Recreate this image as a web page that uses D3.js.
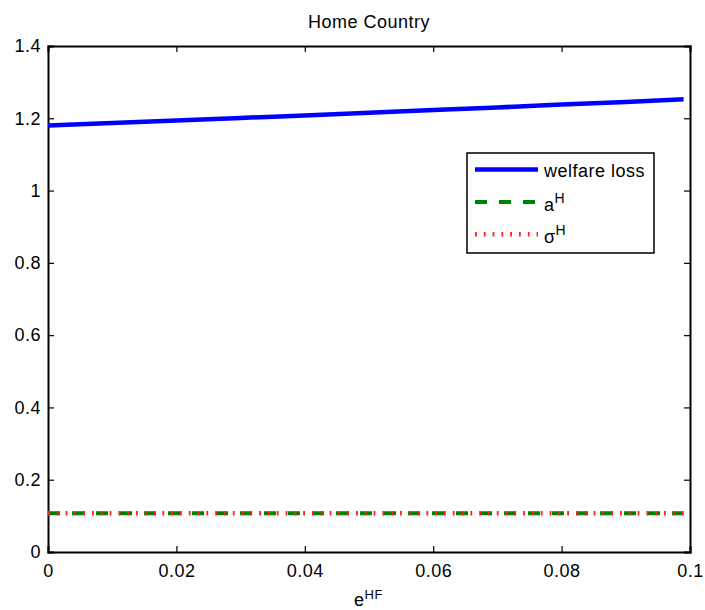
<!DOCTYPE html>
<html>
<head>
<meta charset="utf-8">
<script src="https://cdn.jsdelivr.net/npm/d3@7"></script>
<style>
  body { margin: 0; background: #fff; }
  svg text { font-family: "Liberation Sans", Arial, sans-serif; fill: #000; letter-spacing: 0.5px; }
</style>
</head>
<body>
<script>
"use strict";

// values
const eHF = [0, 0.01, 0.02, 0.03, 0.04, 0.05, 0.06, 0.07, 0.08, 0.09, 0.099];
const welfareLoss = [1.180, 1.187, 1.194, 1.201, 1.208, 1.215, 1.223, 1.230, 1.238, 1.245, 1.253];
const aH = [0.107, 0.107, 0.107, 0.107, 0.107, 0.107, 0.107, 0.107, 0.107, 0.107, 0.107];
const sigmaH = [0.107, 0.107, 0.107, 0.107, 0.107, 0.107, 0.107, 0.107, 0.107, 0.107, 0.107];
const xTicks = [0, 0.02, 0.04, 0.06, 0.08, 0.1];
const yTicks = [0, 0.2, 0.4, 0.6, 0.8, 1, 1.2, 1.4];

const width = 705, height = 610;
const margin = { top: 46, right: 15, bottom: 58, left: 48 };

const svg = d3.select("body").append("svg")
  .attr("width", width)
  .attr("height", height);

const x = d3.scaleLinear().domain([0, 0.1]).range([margin.left, width - margin.right]);
const y = d3.scaleLinear().domain([0, 1.4]).range([height - margin.bottom, margin.top]);

const fmt = d => d === 0 ? "0" : String(+d.toFixed(2));

// axes, ticks pointing inward on all four sides
const tickLen = 6;
svg.append("g")
  .attr("transform", `translate(0,${y(0)})`)
  .call(d3.axisBottom(x).tickValues(xTicks).tickSize(-tickLen).tickPadding(12).tickFormat(fmt));
svg.append("g")
  .attr("transform", `translate(0,${y(1.4)})`)
  .call(d3.axisTop(x).tickValues(xTicks).tickSize(-tickLen).tickFormat(""));
svg.append("g")
  .attr("transform", `translate(${x(0)},0)`)
  .call(d3.axisLeft(y).tickValues(yTicks).tickSize(-tickLen).tickPadding(7).tickFormat(fmt));
svg.append("g")
  .attr("transform", `translate(${x(0.1)},0)`)
  .call(d3.axisRight(y).tickValues(yTicks).tickSize(-tickLen).tickFormat(""));

svg.selectAll(".domain").attr("stroke", "#000").attr("stroke-width", 2);
svg.selectAll(".tick line").attr("stroke", "#000").attr("stroke-width", 1.2);
svg.selectAll(".tick text").style("font-size", "18px");

// series
const line = d3.line().x((d, i) => x(eHF[i])).y(d => y(d));

svg.append("path").datum(welfareLoss)
  .attr("d", line).attr("fill", "none")
  .attr("stroke", "#0000ff").attr("stroke-width", 4.5);
svg.append("path").datum(aH)
  .attr("d", line).attr("fill", "none")
  .attr("stroke", "#008000").attr("stroke-width", 4)
  .attr("stroke-dasharray", "12,12");
svg.append("path").datum(sigmaH)
  .attr("d", line).attr("fill", "none")
  .attr("stroke", "#ff2020").attr("stroke-width", 4.5)
  .attr("stroke-dasharray", "1.8,7");

// title and axis label
svg.append("text")
  .attr("x", (x(0) + x(0.1)) / 2).attr("y", 28)
  .attr("text-anchor", "middle").style("font-size", "18px")
  .text("Home Country");

const xl = svg.append("text")
  .attr("x", 354).attr("y", 606)
  .style("font-size", "18px");
xl.append("tspan").text("e");
xl.append("tspan").attr("dy", -7).style("font-size", "13px").text("HF");

// legend
const lg = svg.append("g").attr("transform", "translate(467,153)");
lg.append("rect")
  .attr("width", 187).attr("height", 100)
  .attr("fill", "#fff").attr("stroke", "#000").attr("stroke-width", 1.5);

const legendItems = [
  { name: "welfare loss", sup: null, color: "#0000ff", w: 4.5, dash: null },
  { name: "a", sup: "H", color: "#008000", w: 4, dash: "12,12" },
  { name: "\u03c3", sup: "H", color: "#ff2020", w: 4.5, dash: "1.8,7" }
];

legendItems.forEach((d, i) => {
  const cy = 16.5 + i * 32.4;
  lg.append("line")
    .attr("x1", 8).attr("x2", 71).attr("y1", cy).attr("y2", cy)
    .attr("stroke", d.color).attr("stroke-width", d.w)
    .attr("stroke-dasharray", d.dash);
  const t = lg.append("text")
    .attr("x", 77).attr("y", cy + (d.sup ? 9 : 7))
    .style("font-size", "18px");
  t.append("tspan").text(d.name);
  if (d.sup) t.append("tspan").attr("dy", -8).style("font-size", "14px").text(d.sup);
});
</script>
</body>
</html>
